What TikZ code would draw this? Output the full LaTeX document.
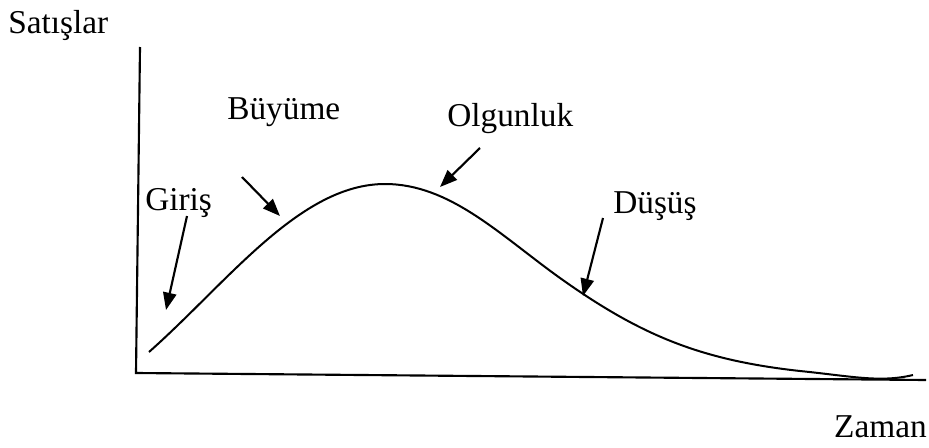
\documentclass[tikz,border=0pt]{standalone}
\usepackage{fontspec}
\setmainfont{Liberation Serif}
\usetikzlibrary{arrows.meta}
\begin{document}
\begin{tikzpicture}[x=0.75pt,y=-0.75pt,
  lbl/.style={font=\fontsize{25}{29}\selectfont, inner sep=0pt},
  axis/.style={line width=1.6pt},
  curveline/.style={line width=1.5pt},
  pointer/.style={line width=1.6pt,-{Triangle[length=13pt,width=10pt]}}]
\useasboundingbox (0,0) rectangle (929,447);
% axes
\coordinate (ytop) at (140,47);
\coordinate (origin) at (136,373);
\coordinate (xend) at (926,380);
\draw[axis] (ytop) -- (origin) -- (xend);
% labels
\node[lbl, anchor=base west] (sat) at (8,33) {Satışlar};
\node[lbl, anchor=base east] (zam) at (927,437) {Zaman};
\node[lbl, anchor=base west] (buy) at (227,119) {Büyüme};
\node[lbl, anchor=base west] (olg) at (447,126) {Olgunluk};
\node[lbl, anchor=base west] (gir) at (145,210) {Giriş};
\node[lbl, anchor=base west] (dus) at (613,213) {Düşüş};
% curve
\coordinate (c0) at (149,352);
\coordinate (c1) at (385,184);
\coordinate (c2) at (560,278);
\coordinate (c3) at (800,371);
\coordinate (c4) at (913,375);
\draw[curveline] (c0) .. controls (228,282) and (300,184) .. (c1)
  .. controls (450,184) and (500,235) .. (c2)
  .. controls (640,335) and (700,360) .. (c3)
  .. controls (850,376) and (880,383) .. (c4);
% arrows
\coordinate (g1) at (187,216); \coordinate (g2) at (166,310);
\coordinate (b1) at (242,177); \coordinate (b2) at (280,216);
\coordinate (o1) at (480,148); \coordinate (o2) at (440,187);
\coordinate (d1) at (603,218); \coordinate (d2) at (583,296);
\draw[pointer] (g1) -- (g2);
\draw[pointer] (b1) -- (b2);
\draw[pointer] (o1) -- (o2);
\draw[pointer] (d1) -- (d2);
\end{tikzpicture}
\end{document}
